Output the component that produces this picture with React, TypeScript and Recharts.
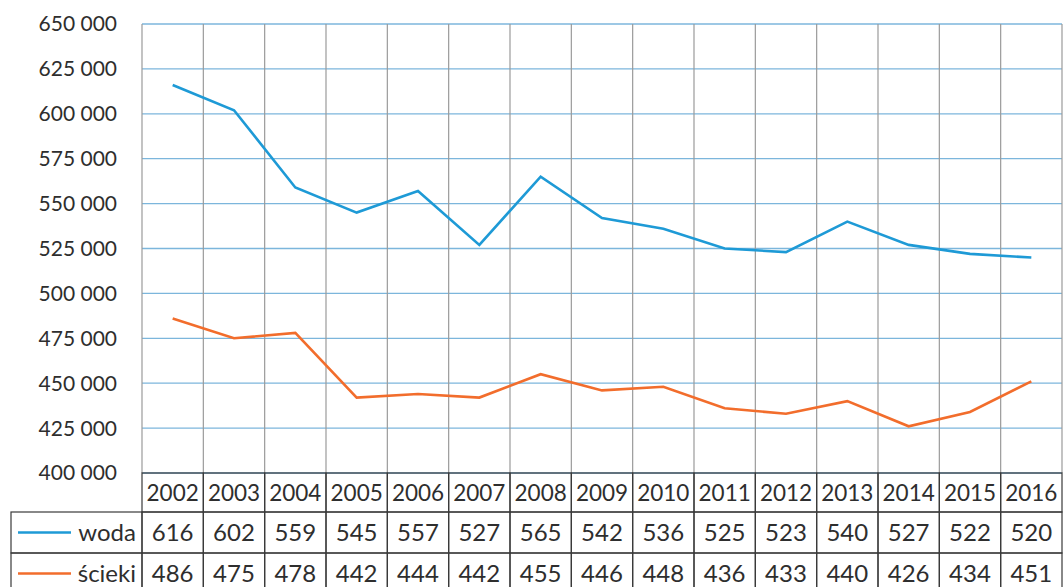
import React from 'react';
import { LineChart, Line, XAxis, YAxis, CartesianGrid, ReferenceLine } from 'recharts';

const years = ['2002', '2003', '2004', '2005', '2006', '2007', '2008', '2009', '2010', '2011', '2012', '2013', '2014', '2015', '2016'];
const woda = [616, 602, 559, 545, 557, 527, 565, 542, 536, 525, 523, 540, 527, 522, 520];
const scieki = [486, 475, 478, 442, 444, 442, 455, 446, 448, 436, 433, 440, 426, 434, 451];
const yTicks = [400000, 425000, 450000, 475000, 500000, 525000, 550000, 575000, 600000, 625000, 650000];

const data = years.map((y, i) => ({ year: y, woda: woda[i] * 1000, scieki: scieki[i] * 1000 }));

const BLUE = '#1e9ad6';
const ORANGE = '#f26d2c';
const TEXT = '#2e2e2e';
const BORDER = '#3a3a3a';
const FONT = 'Lato, "Open Sans", sans-serif';

const W = 1064;
const H = 587;
const LEFT = 142;
const RIGHT = 2;
const COLW = (W - LEFT - RIGHT) / years.length;

const fmt = (v: number) => String(v).replace(/\B(?=(\d{3})+(?!\d))/g, ' ');

const TableTick = (props: any) => {
  const { x, y, index, payload } = props;
  const x0 = x - COLW / 2;
  const r0 = y;
  const r1 = y + 39;
  const r2 = y + 80;
  const r3 = y + 121;
  return (
    <g>
      <rect x={x0} y={r0} width={COLW} height={r1 - r0} fill="none" stroke={BORDER} strokeWidth={1.2} />
      <rect x={x0} y={r1} width={COLW} height={r2 - r1} fill="none" stroke={BORDER} strokeWidth={1.2} />
      <rect x={x0} y={r2} width={COLW} height={r3 - r2} fill="none" stroke={BORDER} strokeWidth={1.2} />
      <text x={x} y={(r0 + r1) / 2 + 8} textAnchor="middle" fontSize={22.5} fill={TEXT} fontFamily={FONT}>{payload.value}</text>
      <text x={x} y={(r1 + r2) / 2 + 8.5} textAnchor="middle" fontSize={24} fill={TEXT} fontFamily={FONT}>{woda[index]}</text>
      <text x={x} y={(r2 + r3) / 2 + 8.5} textAnchor="middle" fontSize={24} fill={TEXT} fontFamily={FONT}>{scieki[index]}</text>
      {index === 0 && (
        <g>
          <rect x={11} y={r1} width={x0 - 11} height={r2 - r1} fill="none" stroke={BORDER} strokeWidth={1.2} />
          <rect x={11} y={r2} width={x0 - 11} height={r3 - r2} fill="none" stroke={BORDER} strokeWidth={1.2} />
          <line x1={18} x2={71} y1={(r1 + r2) / 2} y2={(r1 + r2) / 2} stroke={BLUE} strokeWidth={2.5} />
          <line x1={18} x2={71} y1={(r2 + r3) / 2} y2={(r2 + r3) / 2} stroke={ORANGE} strokeWidth={2.5} />
          <text x={x0 - 6} y={(r1 + r2) / 2 + 8.5} textAnchor="end" fontSize={24} fill={TEXT} fontFamily={FONT}>woda</text>
          <text x={x0 - 6} y={(r2 + r3) / 2 + 8.5} textAnchor="end" fontSize={24} fill={TEXT} fontFamily={FONT}>ścieki</text>
        </g>
      )}
    </g>
  );
};

export default function App() {
  return (
    <div style={{ position: 'absolute', left: 0, top: 0, width: W, height: H, background: '#fff' }}>
      <LineChart width={W} height={H} data={data} margin={{ top: 24, right: RIGHT, left: 0, bottom: 0 }}>
        <CartesianGrid vertical={false} stroke="#7cb6dc" strokeWidth={1.3} />
        {years.map((y) => (
          <ReferenceLine key={y} x={y} position="start" stroke="#9a9a9a" strokeWidth={1.2} />
        ))}
        <ReferenceLine x={years[years.length - 1]} position="end" stroke="#9a9a9a" strokeWidth={1.2} />
        <XAxis
          dataKey="year"
          scale="band"
          height={114}
          axisLine={false}
          tickLine={false}
          tickSize={0}
          tickMargin={0}
          interval={0}
          tick={<TableTick />}
        />
        <YAxis
          width={LEFT}
          domain={[400000, 650000]}
          ticks={yTicks}
          interval={0}
          axisLine={false}
          tickLine={false}
          tickSize={0}
          tickMargin={25}
          tickFormatter={fmt}
          tick={{ fontSize: 21, fill: TEXT, fontFamily: FONT }}
        />
        <Line type="linear" dataKey="woda" stroke={BLUE} strokeWidth={2.6} dot={false} isAnimationActive={false} />
        <Line type="linear" dataKey="scieki" stroke={ORANGE} strokeWidth={2.6} dot={false} isAnimationActive={false} />
      </LineChart>
    </div>
  );
}
